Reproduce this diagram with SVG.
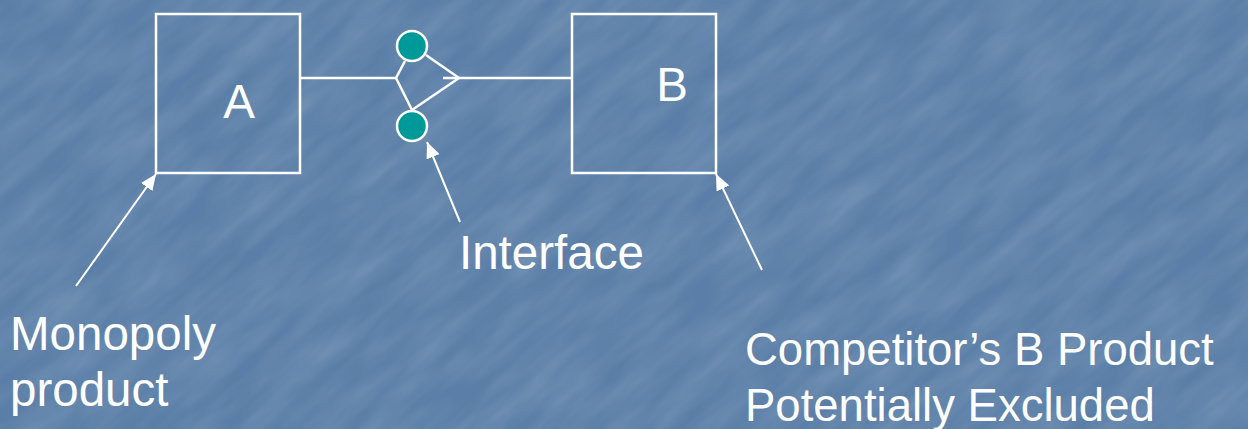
<svg xmlns="http://www.w3.org/2000/svg" width="1248" height="429" viewBox="0 0 1248 429">
  <defs>
    <style>
      .box { fill: none; stroke: #ffffff; stroke-width: 2.5; }
      .wire { fill: none; stroke: #ffffff; stroke-width: 2.5; }
      .pin { fill: #009999; stroke: #ffffff; stroke-width: 2.5; }
      .pointer { fill: none; stroke: #ffffff; stroke-width: 2; }
      .label { font-family: "Liberation Sans", Arial, sans-serif; font-size: 47.5px; fill: #ffffff; }
      .label-wide { font-size: 45.5px; }
    </style>
    <marker id="arrow" viewBox="0 0 16 14" refX="16" refY="7" markerWidth="16" markerHeight="14" markerUnits="userSpaceOnUse" orient="auto">
      <path d="M0,0 L16,7 L0,14 Z" fill="#ffffff"/>
    </marker>
    <!-- soft streaky backdrop -->
    <filter id="mottle" x="0" y="0" width="100%" height="100%">
      <feTurbulence type="fractalNoise" baseFrequency="0.012 0.05" numOctaves="3" seed="7" result="noise"/>
      <feColorMatrix type="matrix" in="noise" values="0 0 0 0 1  0 0 0 0 1  0 0 0 0 1  0 0 0 0.2 -0.05"/>
    </filter>
  </defs>

  <rect x="0" y="0" width="1248" height="429" fill="#5a7ea7"/>
  <g transform="rotate(-40 624 214)">
    <rect x="-400" y="-600" width="2050" height="1630" filter="url(#mottle)"/>
  </g>

  <g id="connectors">
    <!-- A to the interface fork -->
    <polyline class="wire" points="300,78 396,78"/>
    <line class="wire" x1="396" y1="78" x2="405" y2="61"/>
    <line class="wire" x1="396" y1="78" x2="412" y2="110"/>
    <!-- socket side toward B -->
    <line class="wire" x1="426" y1="55" x2="459" y2="78"/>
    <line class="wire" x1="412" y1="110" x2="459" y2="78"/>
    <line class="wire" x1="443" y1="78" x2="572" y2="78"/>
    <!-- callout pointers -->
    <line class="pointer" x1="76" y1="286" x2="156" y2="174" marker-end="url(#arrow)"/>
    <line class="pointer" x1="460" y1="222" x2="427" y2="142" marker-end="url(#arrow)"/>
    <line class="pointer" x1="762" y1="270" x2="716" y2="174" marker-end="url(#arrow)"/>
  </g>

  <g id="node-a">
    <rect class="box" x="156" y="14" width="144" height="159"/>
    <text class="label" x="239" y="118" text-anchor="middle">A</text>
  </g>

  <g id="node-b">
    <rect class="box" x="572" y="14" width="144" height="159"/>
    <text class="label" x="672" y="101" text-anchor="middle">B</text>
  </g>

  <g id="interface-pins">
    <circle class="pin" cx="412" cy="46" r="15"/>
    <circle class="pin" cx="412" cy="126" r="15"/>
  </g>

  <g id="label-monopoly">
    <text class="label" x="10" y="350">Monopoly</text>
    <text class="label" x="10" y="406">product</text>
  </g>

  <g id="label-interface">
    <text class="label" x="459" y="269">Interface</text>
  </g>

  <g id="label-competitor">
    <text class="label label-wide" x="745" y="365">Competitor’s B Product</text>
    <text class="label label-wide" x="745" y="421">Potentially Excluded</text>
  </g>
</svg>
